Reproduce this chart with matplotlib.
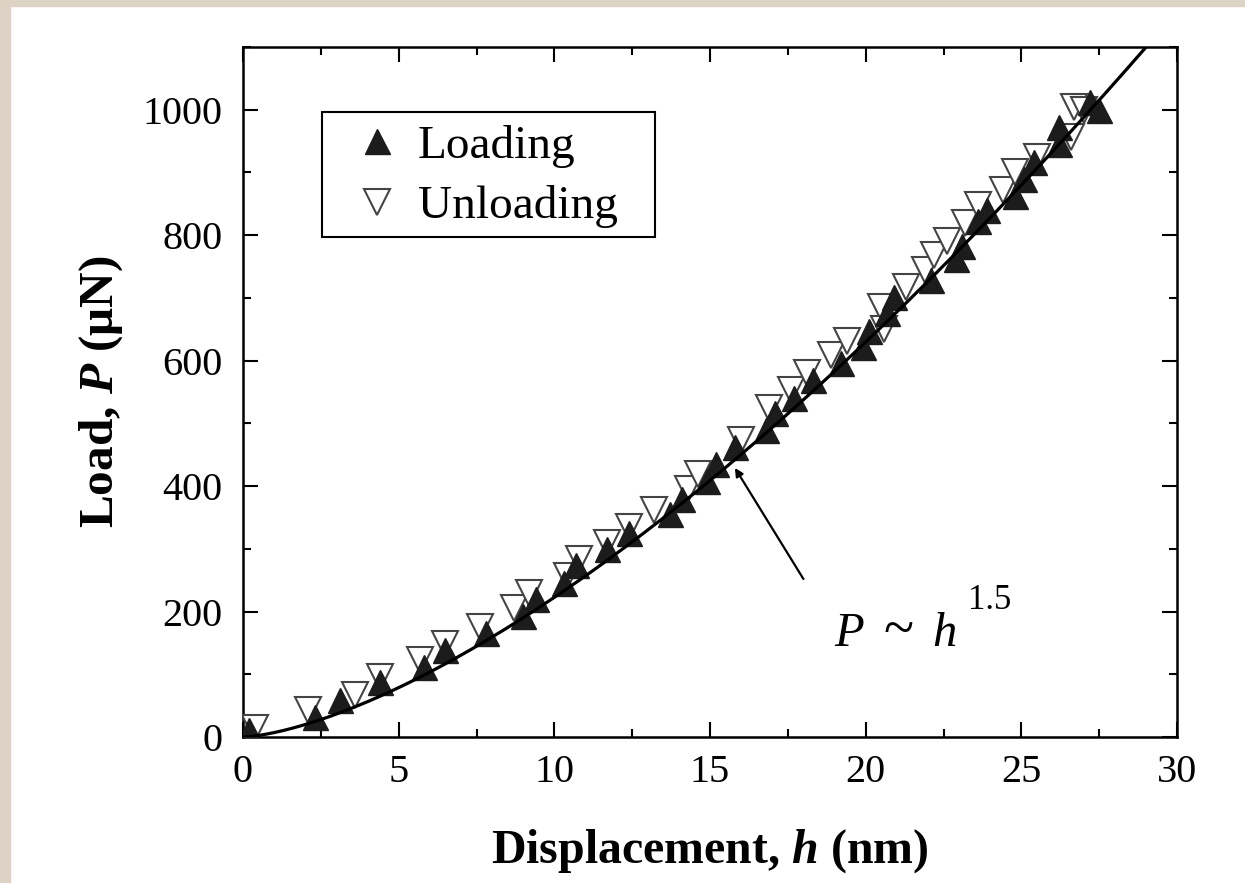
import numpy as np
import matplotlib.pyplot as plt
from matplotlib.patches import Rectangle

plt.rcParams["font.family"] = ["Liberation Serif", "DejaVu Serif"]
plt.rcParams["mathtext.fontset"] = "custom"
plt.rcParams["mathtext.rm"] = "Liberation Serif:bold"
plt.rcParams["mathtext.it"] = "Liberation Serif:italic:bold"

# Loading branch (filled up-triangles), h in nm, P in uN
load_h = [0.2, 2.3, 3.1, 4.4, 5.8, 6.5, 7.8, 9.0, 9.4, 10.3, 10.7, 11.7, 12.4,
          13.7, 14.1, 14.9, 15.2, 15.8, 16.8, 17.1, 17.7, 18.3, 19.2, 19.9,
          20.1, 20.7, 20.9, 22.1, 22.9, 23.1, 23.6, 23.9, 24.8, 25.1, 25.4,
          26.2, 26.2, 27.2, 27.5]
load_P = [11, 32, 59, 88, 112, 139, 166, 193, 220, 245, 274, 300, 326,
          355, 380, 408, 436, 462, 490, 517, 540, 569, 596, 622,
          648, 676, 702, 729, 762, 782, 823, 840, 862, 890, 917,
          945, 972, 1012, 1000]

# Unloading branch (open down-triangles)
unload_h = [0.4, 2.1, 3.6, 4.4, 5.7, 6.5, 7.6, 8.7, 9.2, 10.4, 10.8, 11.7, 12.4,
            13.2, 14.3, 14.6, 16.0, 16.9, 17.6, 18.1, 18.9, 19.4, 20.5, 20.6,
            21.3, 21.9, 22.2, 22.6, 23.2, 23.6, 24.4, 24.8, 25.5, 26.6, 26.7, 27.0]
unload_P = [14, 43, 67, 96, 122, 148, 176, 206, 230, 257, 283, 310, 335,
            362, 395, 420, 474, 525, 553, 580, 609, 632, 686, 650,
            718, 745, 768, 790, 820, 848, 872, 900, 925, 957, 1005, 1000]

# fitted power law P = k * h^1.5
K_FIT = 7.04
EXPONENT = 1.5

W, H = 1245, 883
fig = plt.figure(figsize=(W / 100, H / 100), dpi=100)
fig.patch.set_facecolor("white")

# scanned-page margin
beige = "#ddd3c4"
fig.patches.append(Rectangle((0, 0), 10 / W, 1, transform=fig.transFigure, color=beige, zorder=0))
fig.patches.append(Rectangle((0, 1 - 6 / H), 1, 6 / H, transform=fig.transFigure, color=beige, zorder=0))

ax = fig.add_axes([243 / W, (H - 737) / H, 934 / W, 690 / H])

ax.plot(unload_h, unload_P, "v", ms=19, mfc="white", mec="#444444", mew=1.5,
        label="Unloading", zorder=3)
ax.plot(load_h, load_P, "^", ms=18, mfc="#1c1c1c", mec="#1c1c1c", mew=1,
        label="Loading", zorder=4)

hh = np.linspace(0, 30, 300)
ax.plot(hh, K_FIT * hh ** EXPONENT, color="black", lw=2.3, zorder=5)

ax.set_xlim(0, 30)
ax.set_ylim(0, 1100)
ax.set_xticks(np.arange(0, 31, 5))
ax.set_xticks(np.arange(0, 31, 2.5), minor=True)
ax.set_yticks(np.arange(0, 1001, 200))
ax.set_yticks(np.arange(0, 1101, 100), minor=True)
ax.tick_params(which="both", direction="in", top=True, right=True, width=1.5,
               labelsize=29)
ax.tick_params(axis="x", pad=12)
ax.tick_params(axis="y", pad=15)
ax.tick_params(which="major", length=11)
ax.tick_params(which="minor", length=6)
for s in ax.spines.values():
    s.set_linewidth(1.8)

ax.set_xlabel(r"Displacement, $h$ (nm)", fontsize=34.5, fontweight="bold", labelpad=26)
ax.set_ylabel(r"Load, $P$ (μN)", fontsize=35.5, fontweight="bold", labelpad=12)

# legend: box drawn separately to get the wide right margin of the original
ax.add_patch(Rectangle((0.0846, 0.7246), 0.3565, 0.181, transform=ax.transAxes,
                       fill=False, ec="black", lw=1.5, zorder=6))
handles, labels = ax.get_legend_handles_labels()
leg = ax.legend(handles[::-1], labels[::-1], loc="upper left",
                bbox_to_anchor=(0.118, 0.887), fontsize=34, frameon=False,
                handlelength=1.0, handletextpad=0.37, labelspacing=0.36,
                borderpad=0, borderaxespad=0)

ax.annotate("", xy=(15.8, 429), xytext=(18.0, 252),
            arrowprops=dict(arrowstyle="-|>", color="black", lw=1.6,
                            mutation_scale=12, shrinkA=0, shrinkB=0))
ax.text(18.98, 145, "P", fontsize=35, style="italic", va="baseline", ha="left")
ax.text(21.04, 145, "~", fontsize=40, va="baseline", ha="center")
ax.text(22.13, 145, "h", fontsize=35, style="italic", va="baseline", ha="left")
ax.text(23.3, 218, "1.5", fontsize=25, va="center", ha="left")

fig.savefig("out.png", dpi=100)
